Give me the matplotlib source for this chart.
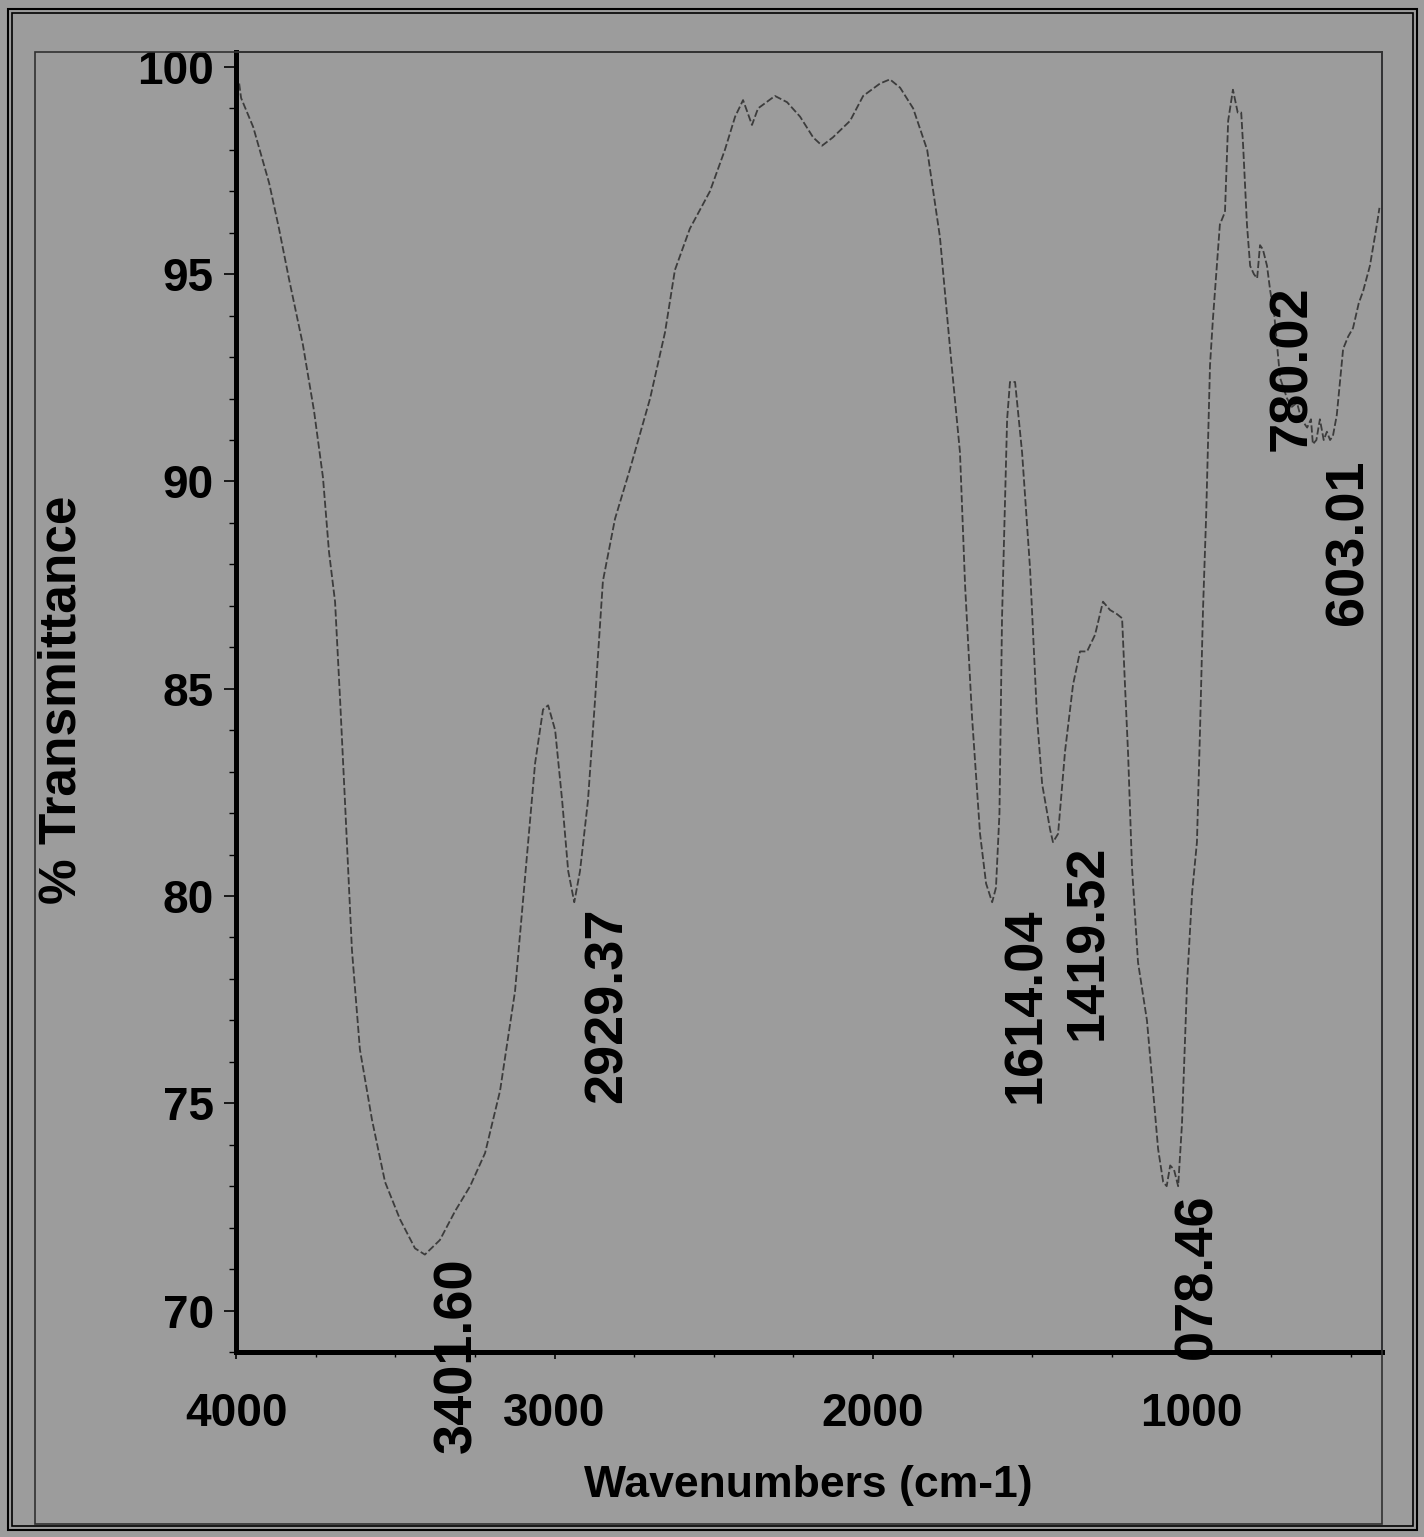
import matplotlib
matplotlib.use('Agg')
import matplotlib.pyplot as plt
from matplotlib.patches import Rectangle
from matplotlib.ticker import MultipleLocator

# FTIR spectrum
wavenumber = [3990, 3984, 3946, 3896, 3865, 3834, 3790, 3755, 3727, 3708, 3689, 3673, 3658,
              3636, 3611, 3573, 3532, 3485, 3438, 3407, 3360, 3312, 3265, 3218, 3171,
              3124, 3093, 3061, 3036, 3020, 2998, 2976, 2957, 2938, 2920, 2895, 2873,
              2848, 2810, 2763, 2700, 2653, 2622, 2575, 2512, 2465, 2433, 2408, 2380,
              2361, 2308, 2270, 2229, 2188, 2160, 2126, 2072, 2031, 1978, 1947, 1915,
              1874, 1830, 1790, 1758, 1727, 1711, 1689, 1664, 1645, 1626, 1614, 1603,
              1595, 1579, 1570, 1554, 1532, 1507, 1485, 1469, 1444, 1435, 1419, 1397,
              1372, 1350, 1328, 1303, 1278, 1256, 1234, 1218, 1209, 1199, 1187, 1168,
              1140, 1124, 1105, 1089, 1078, 1067, 1055, 1042, 1030, 1014, 998, 983, 973,
              964, 954, 942, 933, 911, 895, 885, 870, 855, 844, 838, 826, 816, 804, 794,
              785, 776, 763, 753, 740, 722, 700, 685, 669, 655, 637, 625, 619, 608, 597,
              585, 575, 565, 556, 544, 524, 508, 493, 475, 461, 440, 418, 410]
transmittance = [99.6, 99.25, 98.55, 97.2, 96.1, 94.9, 93.3, 91.7, 90.1, 88.3, 87.1, 84.7, 82.3,
                 78.7, 76.3, 74.6, 73.1, 72.2, 71.5, 71.35, 71.7, 72.4, 73.0, 73.8, 75.3,
                 77.7, 80.4, 83.2, 84.5, 84.6, 84.0, 82.3, 80.6, 79.85, 80.6, 82.3, 84.7,
                 87.6, 89.1, 90.3, 92.0, 93.6, 95.1, 96.1, 97.0, 98.0, 98.8, 99.2, 98.6,
                 99.0, 99.3, 99.15, 98.8, 98.3, 98.1, 98.3, 98.7, 99.3, 99.6, 99.7, 99.5,
                 99.0, 98.0, 95.9, 93.2, 90.7, 87.5, 84.3, 81.5, 80.3, 79.85, 80.2, 82.0,
                 86.7, 91.5, 92.4, 92.4, 90.7, 87.9, 84.3, 82.7, 81.6, 81.3, 81.5, 83.5,
                 85.1, 85.9, 85.9, 86.3, 87.1, 86.9, 86.8, 86.7, 85.1, 83.4, 80.7, 78.4,
                 77.0, 75.6, 73.9, 73.1, 73.0, 73.5, 73.4, 73.0, 74.5, 77.9, 80.1, 81.3, 84.1,
                 86.9, 89.2, 92.8, 93.9, 96.2, 96.5, 98.7, 99.45, 98.9, 98.9, 98.1, 96.2, 95.2,
                 95.0, 94.9, 95.7, 95.6, 95.2, 94.6, 94.0, 92.5, 92.0, 91.8, 91.9, 91.5,
                 91.3, 91.5, 90.9, 91.0, 91.5, 91.0, 91.2, 91.0, 91.1, 91.6, 93.2, 93.5, 93.7,
                 94.3, 94.6, 95.2, 96.2, 96.6]

# peak labels as printed (the 1078.46 one shows without its leading 1)
peak_text = ['3401.60', '2929.37', '1614.04', '1419.52', '078.46', '780.02', '603.01']
peak_wn = [3401.6, 2929.37, 1614.04, 1419.52, 1078.46, 780.02, 603.01]
peak_t = [71.35, 79.8, 79.8, 81.3, 72.9, 94.8, 90.6]

x_ticks = [4000, 3000, 2000, 1000]
y_ticks = [70, 75, 80, 85, 90, 95, 100]

W, H = 1424, 1537
bg = '#9c9c9c'
narrow = ['Liberation Sans Narrow', 'Liberation Sans', 'DejaVu Sans']
wide = ['Liberation Sans', 'DejaVu Sans']

fig = plt.figure(figsize=(W / 100, H / 100), dpi=100, facecolor=bg)
ax = fig.add_axes([236 / W, 1 - 1352 / H, (1382 - 236) / W, (1352 - 52) / H])
ax.set_facecolor(bg)

ax.plot(wavenumber, transmittance, color='#3c3c3c', lw=1.3, ls=(0, (4, 1.5)))

ax.set_xlim(4000, 402)
ax.set_ylim(69.0, 100.36)
ax.set_xticks(x_ticks)
ax.set_yticks(y_ticks)
ax.xaxis.set_minor_locator(MultipleLocator(250))
ax.yaxis.set_minor_locator(MultipleLocator(1))

ax.spines['left'].set_linewidth(3.6)
ax.spines['bottom'].set_linewidth(3.6)
ax.spines['top'].set_linewidth(1.2)
ax.spines['right'].set_linewidth(1.2)
ax.spines['top'].set_color('#303030')
ax.spines['right'].set_color('#303040')

ax.tick_params(axis='y', which='major', direction='out', length=9, width=1.2, pad=7)
ax.tick_params(axis='y', which='minor', direction='out', length=5, width=1.0)
ax.tick_params(axis='x', which='major', direction='out', length=5, width=1.2, pad=24)
ax.tick_params(axis='x', which='minor', direction='out', length=3.5, width=1.0)
ax.tick_params(right=False, top=False)
for lab in ax.get_xticklabels() + ax.get_yticklabels():
    lab.set_family(narrow)
    lab.set_fontweight('bold')
    lab.set_fontsize(33)

for txt, wn, t in zip(peak_text, peak_wn, peak_t):
    ax.annotate(txt, xy=(wn, t), xytext=(4, -2), textcoords='offset points',
                rotation=90, ha='left', va='top', fontsize=39, fontweight='bold',
                family=wide, color='black', annotation_clip=False)

fig.text(808 / W, 1 - 1486 / H, 'Wavenumbers (cm-1)', ha='center', va='center',
         fontsize=32, fontweight='bold', family=narrow)
fig.text(62 / W, 1 - 700 / H, '% Transmittance', ha='center', va='center',
         rotation=90, fontsize=37, fontweight='bold', family=wide)

# frames of the scanned page
fig.patches.append(Rectangle((35 / W, 1 - 1524 / H), (1382 - 35) / W, (1524 - 52) / H,
                             transform=fig.transFigure, fill=False, lw=1.2, ec='#303030'))
fig.patches.append(Rectangle((8 / W, 1 - 1530 / H), (1417 - 8) / W, (1530 - 9) / H,
                             transform=fig.transFigure, fill=False, lw=1.5, ec='black'))
fig.patches.append(Rectangle((12 / W, 1 - 1526 / H), (1413 - 12) / W, (1526 - 13) / H,
                             transform=fig.transFigure, fill=False, lw=1.2, ec='black'))

fig.savefig('out.png', dpi=100, facecolor=bg)
